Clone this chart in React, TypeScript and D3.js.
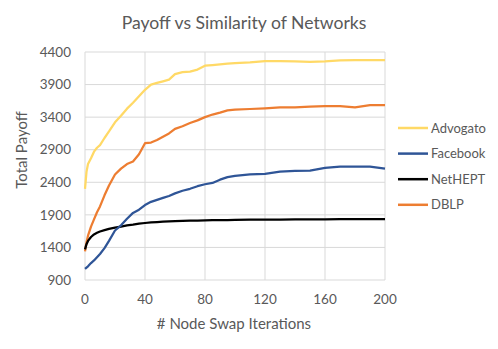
import React, { useEffect, useRef } from 'react';
import * as d3 from 'd3';

// x positions (swap iterations) where values were read
const iterations = [0, 1, 2, 4, 6, 8, 10, 13, 16, 20, 24, 28, 32, 36, 40, 44, 48, 52, 56, 60, 65, 70, 75, 80, 85, 90, 95, 100, 110, 120, 130, 140, 150, 160, 170, 180, 190, 200];

const advogato = [2300, 2560, 2680, 2770, 2870, 2930, 2970, 3080, 3180, 3320, 3420, 3530, 3620, 3720, 3820, 3900, 3925, 3950, 3975, 4060, 4090, 4100, 4130, 4190, 4200, 4210, 4220, 4230, 4240, 4260, 4260, 4255, 4250, 4255, 4270, 4275, 4275, 4275];
const facebook = [1070, 1090, 1110, 1160, 1200, 1250, 1300, 1390, 1500, 1660, 1740, 1840, 1930, 1980, 2050, 2100, 2130, 2160, 2190, 2230, 2270, 2300, 2340, 2370, 2390, 2440, 2480, 2500, 2520, 2530, 2565, 2575, 2580, 2620, 2640, 2640, 2640, 2610];
const netHept = [1370, 1450, 1500, 1560, 1600, 1625, 1645, 1665, 1685, 1705, 1720, 1740, 1750, 1765, 1775, 1785, 1790, 1795, 1800, 1805, 1808, 1810, 1812, 1815, 1818, 1820, 1820, 1822, 1825, 1826, 1828, 1830, 1830, 1832, 1833, 1834, 1835, 1836];
const dblp = [1340, 1480, 1580, 1720, 1830, 1940, 2030, 2200, 2350, 2520, 2610, 2680, 2720, 2830, 3000, 3010, 3050, 3100, 3150, 3220, 3260, 3310, 3350, 3400, 3440, 3470, 3505, 3515, 3525, 3535, 3550, 3550, 3560, 3570, 3570, 3550, 3585, 3585];

const seriesNames = ['Advogato', 'Facebook', 'NetHEPT', 'DBLP'];
const seriesColors = ['#FFD966', '#2F5597', '#000000', '#ED7D31'];
const yTicks = [900, 1400, 1900, 2400, 2900, 3400, 3900, 4400];
const xTicks = [0, 40, 80, 120, 160, 200];

const W = 498;
const H = 349;
const FONT = 'Lato, "Open Sans", sans-serif';
const TEXT = '#595959';

export default function App() {
  const ref = useRef<SVGSVGElement>(null);

  useEffect(() => {
    const svg = d3.select(ref.current);
    svg.selectAll('*').remove();

    const x = d3.scaleLinear().domain([0, 200]).range([85, 385]);
    const y = d3.scaleLinear().domain([900, 4400]).range([280, 52]);

    // gridlines
    svg.append('g').selectAll('line').data(yTicks).enter().append('line')
      .attr('x1', x(0)).attr('x2', x(200))
      .attr('y1', d => y(d)).attr('y2', d => y(d))
      .attr('stroke', '#d9d9d9').attr('stroke-width', 1);
    svg.append('g').selectAll('line').data(xTicks).enter().append('line')
      .attr('y1', y(900)).attr('y2', y(4400))
      .attr('x1', d => x(d)).attr('x2', d => x(d))
      .attr('stroke', '#d9d9d9').attr('stroke-width', 1);

    // tick labels
    svg.append('g').selectAll('text').data(yTicks).enter().append('text')
      .attr('x', 71).attr('y', d => y(d)).attr('dy', '0.35em')
      .attr('text-anchor', 'end')
      .attr('font-family', FONT).attr('font-size', 13.5).attr('fill', TEXT)
      .text(d => d);
    svg.append('g').selectAll('text').data(xTicks).enter().append('text')
      .attr('x', d => x(d)).attr('y', 304)
      .attr('text-anchor', 'middle')
      .attr('font-family', FONT).attr('font-size', 13.5).attr('fill', TEXT)
      .text(d => d);

    // series
    const all = [advogato, facebook, netHept, dblp];
    const line = d3.line<number>()
      .x((d, i) => x(iterations[i]))
      .y(d => y(d));
    // draw order: DBLP, NetHEPT, Facebook, Advogato
    [3, 2, 1, 0].forEach(k => {
      svg.append('path')
        .attr('d', line(all[k]))
        .attr('fill', 'none')
        .attr('stroke', seriesColors[k])
        .attr('stroke-width', 2.25)
        .attr('stroke-linejoin', 'round');
    });

    // legend
    const legend = svg.append('g').selectAll('g').data(seriesNames).enter().append('g')
      .attr('transform', (d, i) => 'translate(0,' + (128 + i * 25.6) + ')');
    legend.append('line')
      .attr('x1', 398).attr('x2', 428).attr('y1', 0).attr('y2', 0)
      .attr('stroke', (d, i) => seriesColors[i]).attr('stroke-width', 2.5);
    legend.append('text')
      .attr('x', 431).attr('y', 0).attr('dy', '0.35em')
      .attr('font-family', FONT).attr('font-size', 13).attr('fill', TEXT)
      .text(d => d);

    // titles
    svg.append('text')
      .attr('x', 244).attr('y', 29)
      .attr('text-anchor', 'middle')
      .attr('font-family', FONT).attr('font-size', 17.6).attr('fill', TEXT)
      .text('Payoff vs Similarity of Networks');
    svg.append('text')
      .attr('x', 234).attr('y', 329)
      .attr('text-anchor', 'middle')
      .attr('font-family', FONT).attr('font-size', 15).attr('fill', TEXT)
      .text('# Node Swap Iterations');
    svg.append('text')
      .attr('transform', 'translate(27,150) rotate(-90)')
      .attr('text-anchor', 'middle')
      .attr('font-family', FONT).attr('font-size', 15).attr('fill', TEXT)
      .text('Total Payoff');
  }, []);

  return (
    <svg ref={ref} width={W} height={H}
      style={{ position: 'absolute', left: 0, top: 0, background: '#fff' }} />
  );
}
